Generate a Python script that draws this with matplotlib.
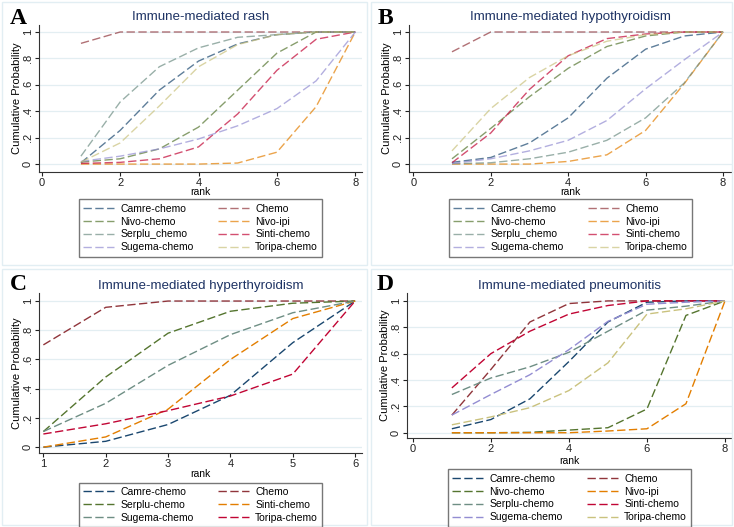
import matplotlib
matplotlib.use("Agg")
import matplotlib.pyplot as plt
from matplotlib.lines import Line2D
from matplotlib.patches import Rectangle

plt.rcParams["font.family"] = ["Liberation Sans", "DejaVu Sans"]

# ---- data ----
ranks8 = [1, 2, 3, 4, 5, 6, 7, 8]
ranks6 = [1, 2, 3, 4, 5, 6]

names8 = ["Camre-chemo", "Chemo", "Nivo-chemo", "Nivo-ipi",
          "Serplu_chemo", "Sinti-chemo", "Sugema-chemo", "Toripa-chemo"]
names8_d = ["Camre-chemo", "Chemo", "Nivo-chemo", "Nivo-ipi",
            "Serplu-chemo", "Sinti-chemo", "Sugema-chemo", "Toripa-chemo"]
names6 = ["Camre-chemo", "Chemo", "Serplu-chemo",
          "Sinti-chemo", "Sugema-chemo", "Toripa-chemo"]

rash = {
    "Camre-chemo": [0.01, 0.255, 0.56, 0.78, 0.91, 0.98, 1.0, 1.0],
    "Chemo": [0.914, 1.0, 1.0, 1.0, 1.0, 1.0, 1.0, 1.0],
    "Nivo-chemo": [0.015, 0.04, 0.115, 0.28, 0.56, 0.84, 1.0, 1.0],
    "Nivo-ipi": [0.0, 0.0, 0.0, 0.0, 0.008, 0.09, 0.435, 1.0],
    "Serplu_chemo": [0.06, 0.47, 0.737, 0.88, 0.96, 0.98, 1.0, 1.0],
    "Sinti-chemo": [0.005, 0.013, 0.04, 0.13, 0.38, 0.71, 0.945, 1.0],
    "Sugema-chemo": [0.02, 0.06, 0.115, 0.19, 0.29, 0.42, 0.63, 1.0],
    "Toripa-chemo": [0.015, 0.16, 0.44, 0.737, 0.905, 0.98, 1.0, 1.0],
}

hypo = {
    "Camre-chemo": [0.013, 0.05, 0.16, 0.35, 0.65, 0.87, 0.97, 1.0],
    "Chemo": [0.85, 1.0, 1.0, 1.0, 1.0, 1.0, 1.0, 1.0],
    "Nivo-chemo": [0.04, 0.27, 0.51, 0.725, 0.89, 0.97, 1.0, 1.0],
    "Nivo-ipi": [0.0, 0.0, 0.0, 0.02, 0.07, 0.255, 0.61, 1.0],
    "Serplu_chemo": [0.003, 0.01, 0.04, 0.09, 0.18, 0.35, 0.615, 1.0],
    "Sinti-chemo": [0.01, 0.235, 0.565, 0.82, 0.95, 0.985, 1.0, 1.0],
    "Sugema-chemo": [0.005, 0.04, 0.1, 0.18, 0.33, 0.57, 0.79, 1.0],
    "Toripa-chemo": [0.1, 0.42, 0.655, 0.82, 0.93, 0.98, 1.0, 1.0],
}

hyper = {
    "Camre-chemo": [0.0, 0.04, 0.155, 0.355, 0.715, 1.0],
    "Chemo": [0.70, 0.957, 1.0, 1.0, 1.0, 1.0],
    "Serplu-chemo": [0.107, 0.48, 0.78, 0.93, 0.985, 1.0],
    "Sinti-chemo": [0.0, 0.07, 0.26, 0.60, 0.88, 1.0],
    "Sugema-chemo": [0.107, 0.30, 0.56, 0.77, 0.92, 1.0],
    "Toripa-chemo": [0.09, 0.16, 0.25, 0.35, 0.50, 1.0],
}

pneu = {
    "Camre-chemo": [0.03, 0.10, 0.257, 0.54, 0.84, 0.99, 1.0, 1.0],
    "Chemo": [0.134, 0.48, 0.84, 0.98, 1.0, 1.0, 1.0, 1.0],
    "Nivo-chemo": [0.0, 0.0, 0.003, 0.02, 0.038, 0.18, 0.89, 1.0],
    "Nivo-ipi": [0.0, 0.0, 0.0, 0.0, 0.013, 0.03, 0.22, 1.0],
    "Serplu-chemo": [0.29, 0.415, 0.50, 0.61, 0.77, 0.93, 0.96, 1.0],
    "Sinti-chemo": [0.34, 0.60, 0.77, 0.90, 0.965, 1.0, 1.0, 1.0],
    "Sugema-chemo": [0.134, 0.29, 0.44, 0.63, 0.845, 0.975, 0.99, 1.0],
    "Toripa-chemo": [0.06, 0.12, 0.19, 0.32, 0.53, 0.90, 0.94, 1.0],
}

# stata s2color cycle
cycle = ["#1a476f", "#90353b", "#55752f", "#e37e00",
         "#6e8e84", "#c10534", "#938dd2", "#cac27e"]

W, H = 734, 527
fig = plt.figure(figsize=(W / 100, H / 100), dpi=100)


def fx(px):
    return px / W


def fy(py):
    return 1 - py / H


# light panel frames
for (l, t, r, b) in [(2, 2, 367, 265), (371, 2, 732, 265),
                     (2, 269, 367, 525), (371, 269, 732, 525)]:
    fig.patches.append(Rectangle((fx(l), fy(b)), fx(r) - fx(l), fy(t) - fy(b),
                                 transform=fig.transFigure, fill=False,
                                 edgecolor="#e2eef3", lw=1))


def panel(box, xlim, ylim, xticks, ranks, data, names, colors, alpha,
          title, letter, letter_xy, title_y, rank_y, leg_cy):
    l, t, r, b = box
    ax = fig.add_axes([fx(l), fy(b), fx(r) - fx(l), fy(t) - fy(b)])
    handles = []
    for name, col in zip(names, colors):
        ln, = ax.plot(ranks, data[name], color=col, lw=1.0, alpha=alpha,
                      linestyle=(0, (6, 2.5)))
        handles.append(ln)
    ax.set_xlim(*xlim)
    ax.set_ylim(*ylim)
    ax.set_xticks(xticks)
    ax.set_yticks([0, 0.2, 0.4, 0.6, 0.8, 1.0])
    ax.set_yticklabels(["0", ".2", ".4", ".6", ".8", "1"], rotation=90,
                       va="center")
    ax.tick_params(labelsize=8, length=3, width=0.8, pad=1.5,
                   colors="#222222")
    ax.yaxis.grid(True, color="#e3eef2", lw=0.9)
    ax.set_axisbelow(True)
    for s in ("top", "right"):
        ax.spines[s].set_visible(False)
    for s in ("left", "bottom"):
        ax.spines[s].set_color("#333333")
        ax.spines[s].set_linewidth(0.8)
    ax.set_ylabel("Cumulative Probability", fontsize=8, labelpad=0.5)

    cx = (l + r) / 2
    fig.text(fx(cx), fy(title_y), title, ha="center", va="center",
             fontsize=9.6, color="#1e3364")
    fig.text(fx(letter_xy[0]), fy(letter_xy[1]), letter, ha="center",
             va="center", fontsize=17, fontweight="bold",
             family=["Liberation Serif", "DejaVu Serif"])
    fig.text(fx(cx), fy(rank_y), "rank", ha="center", va="center",
             fontsize=7.5)

    # legend filled row by row, like the original
    n = len(handles)
    order = list(range(0, n, 2)) + list(range(1, n, 2))
    leg_h = [Line2D([], [], color=handles[i].get_color(), alpha=alpha, lw=1.0,
                    linestyle=(0, (6, 2.5))) for i in order]
    leg_l = [names[i] for i in order]
    fig.legend(leg_h, leg_l, loc="center", bbox_to_anchor=(fx(cx), fy(leg_cy)),
               ncol=2, fontsize=7.5, frameon=True, fancybox=False,
               edgecolor="#555555", handlelength=3.0, labelspacing=0.28,
               columnspacing=2.3, borderpad=0.4, handletextpad=0.6)
    return ax


panel((39, 25, 362, 172), (-0.07, 8.17), (-0.06, 1.053), [0, 2, 4, 6, 8],
      ranks8, rash, names8, cycle, 0.7, "Immune-mediated rash", "A",
      (18, 18), 17, 192, 228)
panel((409, 25, 732, 172), (-0.11, 8.23), (-0.06, 1.053), [0, 2, 4, 6, 8],
      ranks8, hypo, names8, cycle, 0.7, "Immune-mediated hypothyroidism", "B",
      (385, 18), 17, 192, 228)
panel((39, 293, 362, 453), (0.93, 6.11), (-0.04, 1.055), [1, 2, 3, 4, 5, 6],
      ranks6, hyper, names6, cycle[:6], 1.0,
      "Immune-mediated hyperthyroidism", "C", (18, 284), 286, 474, 505)
panel((407, 293, 732, 438), (-0.15, 8.18), (-0.04, 1.06), [0, 2, 4, 6, 8],
      ranks8, pneu, names8_d, cycle, 1.0, "Immune-mediated pneumonitis", "D",
      (385, 284), 286, 461, 498)

fig.savefig("out.png", dpi=100)
